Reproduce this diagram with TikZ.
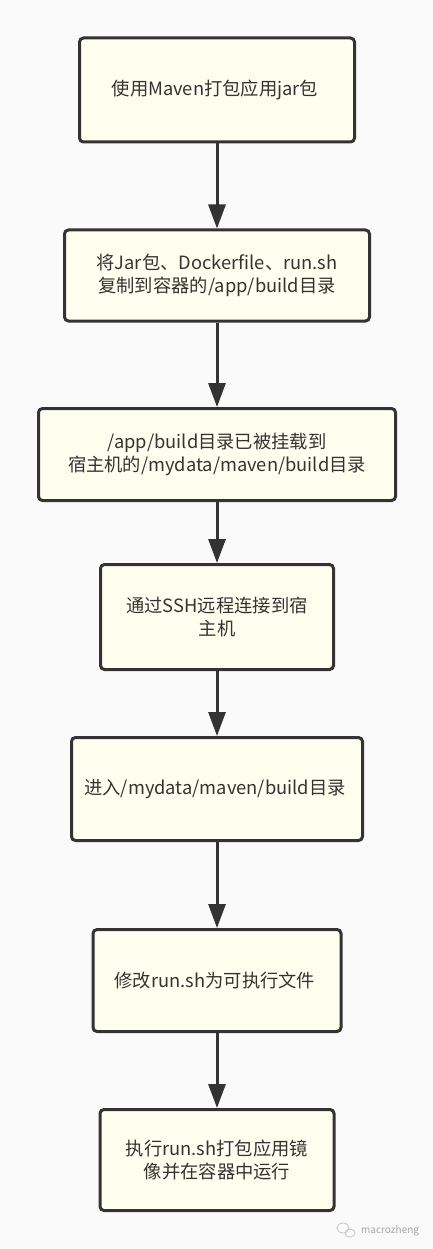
\documentclass[tikz,border=0pt]{standalone}
\usepackage{fontspec}
\newfontfamily\cjk{Noto Sans CJK SC}
\usetikzlibrary{arrows.meta,positioning}

\definecolor{pagebg}{HTML}{FAFAFA}
\definecolor{boxfill}{HTML}{FFFFF0}
\definecolor{edgegray}{HTML}{333333}

\tikzset{
    stepbox/.style={rectangle, draw=edgegray, line width=3pt, rounded corners=4pt,
        fill=boxfill, align=center, inner sep=0pt, text=edgegray,
        font=\cjk\fontsize{18.3}{23}\selectfont},
    flow/.style={draw=edgegray, line width=3pt,
        -{Triangle[length=24pt,width=17pt]}}
}

\begin{document}
\begin{tikzpicture}[x=1pt,y=1pt]

    % page
    \fill[pagebg] (0,0) rectangle (433,-1249);
    \useasboundingbox (0,0) rectangle (433,-1249);

    %-----Steps-----
    % Build jar
    \node [stepbox, minimum width=275pt, minimum height=104pt] (jar) at (217,-90) {%
        使用Maven打包应用jar包
    };

    % Copy files
    \node [stepbox, minimum width=305pt, minimum height=91pt, below=85pt of jar] (copy) {%
        将Jar包、Dockerfile、run.sh \\
        复制到容器的/app/build目录
    };

    % Mounted directory
    \node [stepbox, minimum width=357pt, minimum height=92pt, below=84.5pt of copy] (mount) {%
        /app/build目录已被挂载到 \\
        宿主机的/mydata/maven/build目录
    };

    % SSH login
    \node [stepbox, minimum width=233pt, minimum height=105pt, below=61pt of mount] (ssh) {%
        通过SSH远程连接到宿 \\
        主机
    };

    % Enter directory
    \node [stepbox, minimum width=291pt, minimum height=103pt, below=65pt of ssh] (cd) {%
        进入/mydata/maven/build目录
    };

    % Chmod script
    \node [stepbox, minimum width=248pt, minimum height=102pt, below=86pt of cd] (chmod) {%
        修改run.sh为可执行文件
    };

    % Run script
    \node [stepbox, minimum width=234pt, minimum height=101pt, below=75pt of chmod] (run) {%
        执行run.sh打包应用镜 \\
        像并在容器中运行
    };

    %-----Arrows-----
    \draw [flow] (jar) -- (copy);
    \draw [flow] (copy) -- (mount);
    \draw [flow] (mount) -- (ssh);
    \draw [flow] (ssh) -- (cd);
    \draw [flow] (cd) -- (chmod);
    \draw [flow] (chmod) -- (run);

    % watermark
    \draw [gray!45, line width=0.8pt] (343,-1228) ellipse (6pt and 5pt);
    \draw [gray!45, line width=0.8pt] (350,-1233) ellipse (5pt and 4pt);
    \node [anchor=west, inner sep=0pt, text=gray!70, font=\fontsize{10}{12}\selectfont\cjk] (mark) at (361,-1231) {macrozheng};

\end{tikzpicture}
\end{document}
